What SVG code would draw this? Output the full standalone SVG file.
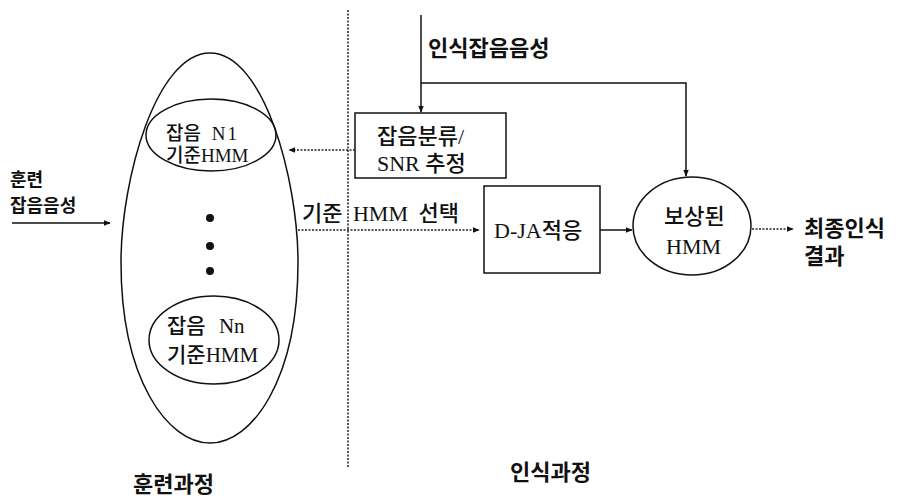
<svg xmlns="http://www.w3.org/2000/svg" width="903" height="499" viewBox="0 0 903 499">
<style>
.ln{fill:none;stroke:#111;stroke-width:1.5}
.dot{fill:none;stroke:#222;stroke-width:1.5;stroke-dasharray:2 1.5}
.t{font-family:"Liberation Serif","Noto Sans CJK KR",serif;fill:#111;font-size:22px;font-weight:500}
.b{font-weight:bold}
.s{font-size:19px}
.m{font-size:21px}
.sm{font-size:18px}
</style>
<defs>
<marker id="ah" viewBox="0 0 10 10" refX="9" refY="5" markerWidth="7" markerHeight="7" markerUnits="userSpaceOnUse" orient="auto"><path d="M0,1 L10,5 L0,9 Z" fill="#111"/></marker>
</defs>
<rect width="903" height="499" fill="#fff"/>
<g id="separator"><line x1="348" y1="10" x2="348" y2="467" class="dot"/></g>
<g id="training">
<path class="ln" d="M210,53 C264,53 298,180 298,262 C298,380 252,443 210,443 C168,443 121,380 121,262 C121,180 156,53 210,53 Z"/>
<circle cx="210" cy="218" r="4" fill="#111"/>
<circle cx="210" cy="246" r="4" fill="#111"/>
<circle cx="210" cy="271" r="4" fill="#111"/>
</g>
<g id="n1"><ellipse cx="211" cy="135" rx="65" ry="36" class="ln"/>
<text class="t s" x="166" y="140" word-spacing="6">잡음 N<tspan dx="2">1</tspan></text>
<text class="t s" x="166" y="162">기준HMM</text></g>
<g id="nn"><ellipse cx="214" cy="340" rx="65" ry="44" class="ln"/>
<text class="t m" x="167" y="333" word-spacing="8">잡음 Nn</text>
<text class="t m" x="167" y="362">기준HMM</text></g>
<g id="train-input"><text class="t sm b" x="10" y="186">훈련</text><text class="t sm b" x="10" y="212">잡음음성</text></g>
<g id="rec-input"><text class="t b" x="428" y="56">인식잡음음성</text></g>
<g id="classify"><rect x="355" y="113" width="151" height="65" class="ln"/>
<text class="t" x="377" y="144">잡음분류/</text>
<text class="t" x="377" y="171">SNR 추정</text></g>
<g id="select-label"><text class="t" x="302" y="221" word-spacing="5">기준 HMM 선택</text></g>
<g id="dja"><rect x="484" y="186" width="116" height="87" class="ln"/>
<text class="t" x="494" y="238">D-JA적응</text></g>
<g id="comp"><ellipse cx="692" cy="226" rx="59" ry="49" class="ln"/>
<text class="t" x="664" y="224">보상된</text>
<text class="t" x="666" y="254">HMM</text></g>
<g id="result"><text class="t b" x="804" y="236">최종인식</text><text class="t b" x="804" y="264">결과</text></g>
<g id="train-label"><text class="t b" x="133" y="492">훈련과정</text></g>
<g id="rec-label"><text class="t b" x="510" y="480">인식과정</text></g>
<g id="connectors">
<line x1="12" y1="223" x2="110" y2="223" class="ln" marker-end="url(#ah)"/>
<line x1="421" y1="15" x2="421" y2="112" class="ln" marker-end="url(#ah)"/>
<polyline points="421,83 686,83 686,176" class="ln" marker-end="url(#ah)"/>
<line x1="355" y1="150" x2="289" y2="150" class="dot" marker-end="url(#ah)"/>
<line x1="298" y1="230" x2="479" y2="230" class="dot" marker-end="url(#ah)"/>
<line x1="600" y1="230" x2="632" y2="230" class="ln" marker-end="url(#ah)"/>
<line x1="752" y1="229" x2="793" y2="229" class="dot" marker-end="url(#ah)"/>
</g>
</svg>
